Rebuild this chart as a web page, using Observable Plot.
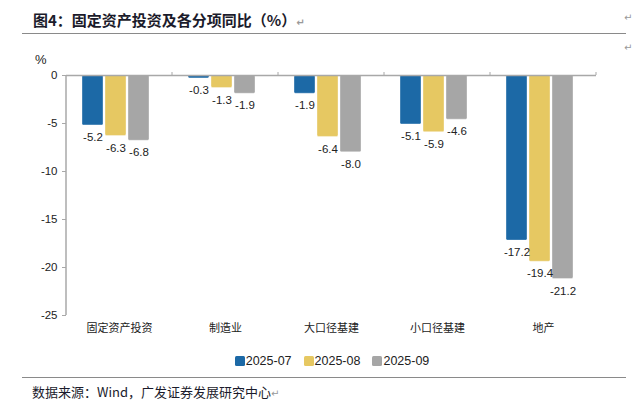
<!DOCTYPE html>
<html>
<head>
<meta charset="utf-8">
<script src="https://cdn.jsdelivr.net/npm/d3@7"></script>
<script src="https://cdn.jsdelivr.net/npm/@observablehq/plot@0.6"></script>
<style>
  html, body { margin: 0; padding: 0; background: #fff; }
  #page { position: relative; width: 640px; height: 410px; overflow: hidden; font-family: "Liberation Sans", Arial, sans-serif; }
  .abs { position: absolute; white-space: nowrap; }
  .pm { color: #999; font-size: 10px; font-family: "DejaVu Sans", sans-serif; }
  #title { left: 33px; top: 9px; font-size: 15px; font-weight: bold; color: #1b1b2b; font-family: "Noto Sans CJK SC", sans-serif; }
  #rule1 { left: 22px; top: 33px; width: 604px; height: 0; border-top: 1.5px solid #8a8a8a; }
  #unit { left: 35px; top: 52px; font-size: 13px; color: #222; }
  #chart { left: 0; top: 40px; }
  #legend { left: 12px; top: 354px; width: 640px; display: flex; justify-content: center; gap: 12px; font-size: 12.5px; color: #222; }
  #legend .item { display: flex; align-items: center; }
  #legend .sw { width: 10px; height: 10px; border-radius: 1.5px; margin-right: 1px; }
  #rule2 { left: 22px; top: 377px; width: 604px; height: 0; border-top: 1.5px solid #8a8a8a; }
  #caption { left: 32px; top: 382px; font-size: 13px; color: #1b1b2b; font-family: "Noto Sans CJK SC", sans-serif; }
</style>
</head>
<body>
<div id="page">
  <div id="title" class="abs">图4：固定资产投资及各分项同比（%）<span class="pm">↵</span></div>
  <div class="abs pm" style="left:624px;top:12px;">↵</div>
  <div id="rule1" class="abs"></div>
  <div class="abs pm" style="left:624px;top:42px;">↵</div>
  <div id="unit" class="abs">%</div>
  <div id="chart" class="abs"></div>
  <div id="legend" class="abs"></div>
  <div id="rule2" class="abs"></div>
  <div id="caption" class="abs">数据来源：Wind，广发证券发展研究中心<span class="pm">↵</span></div>
</div>
<script>
const categories = ["固定资产投资", "制造业", "大口径基建", "小口径基建", "地产"];
const seriesNames = ["2025-07", "2025-08", "2025-09"];
const values0725 = [-5.2, -0.3, -1.9, -5.1, -17.2];
const values0825 = [-6.3, -1.3, -6.4, -5.9, -19.4];
const values0925 = [-6.8, -1.9, -8.0, -4.6, -21.2];
const colors = ["#1c69a6", "#e6c862", "#a6a6a6"];
const yTicks = [0, -5, -10, -15, -20, -25];

const seriesValues = [values0725, values0825, values0925];
const data = [];
categories.forEach((c, i) => {
  seriesNames.forEach((s, j) => {
    data.push({category: c, series: s, value: seriesValues[j][i]});
  });
});

const plot = Plot.plot({
  width: 640,
  height: 310,
  marginTop: 35,
  marginBottom: 35,
  marginLeft: 64,
  marginRight: 43,
  style: {fontFamily: "'Liberation Sans', Arial, sans-serif", fontSize: "11px", color: "#222", background: "transparent"},
  fx: {domain: categories, padding: 0, label: null},
  x: {domain: seriesNames, paddingInner: 0.09, paddingOuter: 0.8, align: 0.42, axis: null},
  y: {domain: [-25, 0], label: null},
  color: {domain: seriesNames, range: colors},
  marks: [
    Plot.barY(data, {fx: "category", x: "series", y: "value", fill: "series", stroke: "#fff", strokeOpacity: 0.6, strokeWidth: 0.6, rx: 1.5}),
    Plot.text(data, {fx: "category", x: "series", y: "value", text: d => d.value.toFixed(1), dy: 12, fontSize: 11.5, fill: "#222"}),
    Plot.ruleY([0], {stroke: "#a8a8a8", strokeWidth: 1.5}),
    Plot.axisY({ticks: yTicks, tickFormat: d => String(d), tickSize: 4, tickPadding: 5, fontSize: 11.5, stroke: "#a8a8a8", label: null}),
    Plot.axisFx({anchor: "bottom", tickSize: 0, tickPadding: 9, fontSize: 11, fontFamily: "'Noto Sans CJK SC', sans-serif", label: null})
  ]
});

// axis line and category boundary ticks, positioned with the plot's own scales
const fx = plot.scale("fx");
const y = plot.scale("y");
const svg = d3.select(plot.tagName === "svg" ? plot : plot.querySelector("svg"));
const x0 = fx.apply(categories[0]);
svg.append("line")
  .attr("x1", x0).attr("x2", x0)
  .attr("y1", y.apply(0)).attr("y2", y.apply(-25))
  .attr("stroke", "#a8a8a8").attr("stroke-width", 1.5);
categories.forEach(c => {
  const xb = fx.apply(c) + fx.bandwidth;
  svg.append("line")
    .attr("x1", xb).attr("x2", xb)
    .attr("y1", y.apply(0)).attr("y2", y.apply(0) - 3)
    .attr("stroke", "#a8a8a8").attr("stroke-width", 1);
});

document.getElementById("chart").appendChild(plot);

const legend = document.getElementById("legend");
seriesNames.forEach((s, j) => {
  const item = document.createElement("div");
  item.className = "item";
  const sw = document.createElement("span");
  sw.className = "sw";
  sw.style.background = colors[j];
  const t = document.createElement("span");
  t.textContent = s;
  item.appendChild(sw);
  item.appendChild(t);
  legend.appendChild(item);
});
</script>
</body>
</html>
